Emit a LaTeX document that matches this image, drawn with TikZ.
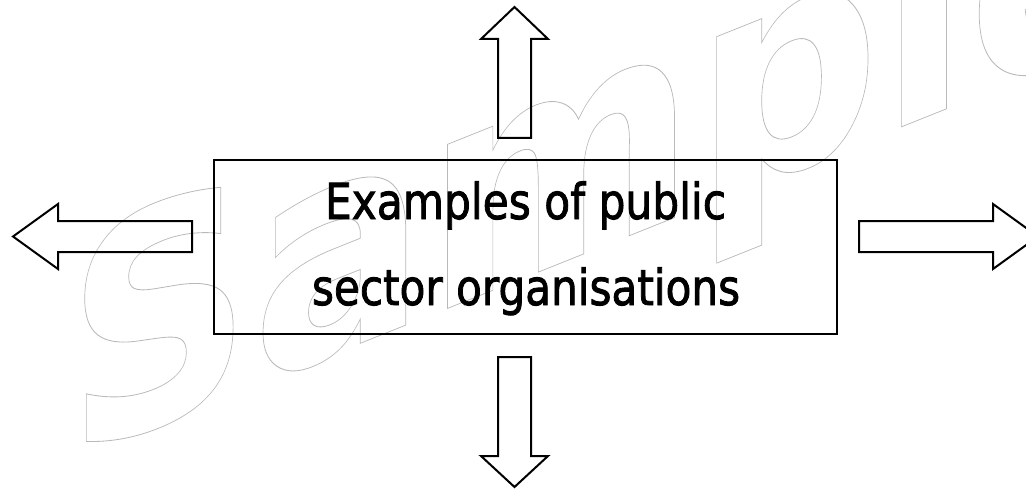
\documentclass[tikz,border=0pt]{standalone}
\usepackage{fontspec}
\setmainfont{DejaVu Sans}
\newfontfamily\wmfont{DejaVu Sans}
\usepackage{graphicx}
\definecolor{wmgray}{RGB}{185,185,185}
\newcommand{\heavytext}[1]{\special{pdf:literal direct q 2 Tr 0.9 w}#1\special{pdf:literal direct Q}}
\newcommand{\outlinetext}[1]{\special{pdf:literal direct q 1 Tr 0.8 w}#1\special{pdf:literal direct Q}}
\tikzset{
  blockarrow/.style={draw=black, line width=2pt, line join=miter, miter limit=10},
  boxstyle/.style={draw=black, line width=2pt, minimum width=623pt, minimum height=174pt, inner sep=0pt},
  labeltext/.style={font=\fontsize{49.5}{60}\selectfont, anchor=base, inner sep=0pt},
  wmtext/.style={text=wmgray, anchor=base west, inner sep=0pt, transform shape, font=\wmfont\bfseries\fontsize{300}{300}\selectfont}
}
\begin{document}
\begin{tikzpicture}[x=1pt,y=1pt]
\useasboundingbox (0,0) rectangle (1026,491);
\clip (0,0) rectangle (1026,491);
% watermark
\begin{scope}[shift={(66,30)}, yslant=0.4]
  \node[wmtext] (wm) at (0,0) {\outlinetext{\scalebox{0.86}[1]{Sample}}};
\end{scope}
% central box
\node[boxstyle] (box) at (525.5,244) {};
\node[labeltext] (l1) at (525.5,272) {\heavytext{\resizebox{401pt}{\height}{Examples of public}}};
\node[labeltext] (l2) at (526,186) {\heavytext{\resizebox{428pt}{\height}{sector organisations}}};
% block arrows
\draw[blockarrow] (13,254.5) -- (58,287) -- (58,270) -- (192,270) -- (192,239) -- (58,239) -- (58,222) -- cycle;
\draw[blockarrow] (859,239) -- (859,270) -- (993,270) -- (993,287) -- (1038,254.5) -- (993,222) -- (993,239) -- cycle;
\draw[blockarrow] (514.5,484) -- (548,452) -- (531,452) -- (531,353) -- (498,353) -- (498,452) -- (481,452) -- cycle;
\draw[blockarrow] (498,134) -- (531,134) -- (531,35) -- (548,35) -- (514.5,4) -- (481,35) -- (498,35) -- cycle;
\end{tikzpicture}
\end{document}
